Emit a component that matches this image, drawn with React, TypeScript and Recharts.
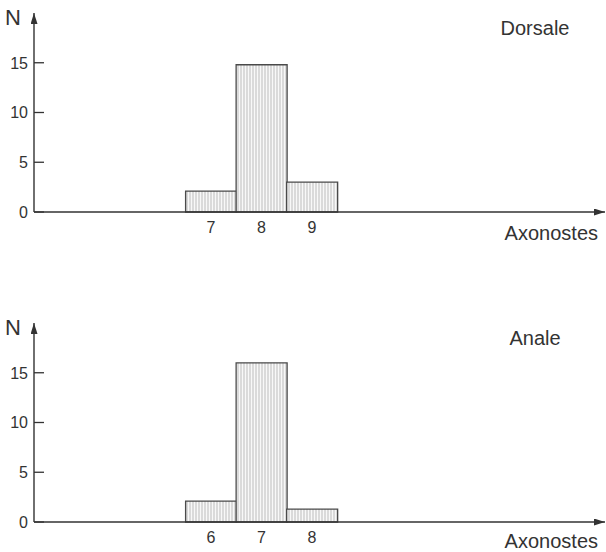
import { BarChart, Bar, XAxis, YAxis } from "recharts";

// axonostes counts per fin
const dorsaleBins = [7, 8, 9];
const dorsaleCounts = [2.1, 14.8, 3];
const analeBins = [6, 7, 8];
const analeCounts = [2.1, 16, 1.3];
const yTicks = [0, 5, 10, 15];

const FONT = '"Liberation Sans", Arial, Helvetica, sans-serif';
const INK = "#333";

const YTick = (props: any) => {
  const { x, y, payload } = props;
  return (
    <g>
      <line x1={x} x2={x + 10} y1={y} y2={y} stroke={INK} strokeWidth={1.3} />
      <text x={x - 6} y={y} dy="0.36em" textAnchor="end" fontSize={16} fill={INK} fontFamily={FONT}>
        {payload.value}
      </text>
    </g>
  );
};

type HistProps = {
  id: string;
  title: string;
  bins: number[];
  counts: number[];
  domain: [number, number];
  height: number;
  bottom: number;
  axisHeight: number;
  labelDy: number;
};

function Histogram({ id, title, bins, counts, domain, height, bottom, axisHeight, labelDy }: HistProps) {
  const data = bins.map((b, i) => ({ bin: b, n: counts[i] }));
  return (
    <BarChart
      width={606}
      height={height}
      data={data}
      margin={{ top: 13, right: 1, bottom, left: 0 }}
      barCategoryGap={0}
      style={{ fontFamily: FONT }}
    >
      <defs>
        <marker
          id={`arrow-${id}`}
          viewBox="0 0 11 7"
          refX={11}
          refY={3.5}
          markerWidth={11}
          markerHeight={7}
          markerUnits="userSpaceOnUse"
          orient="auto-start-reverse"
        >
          <path d="M0,0 L11,3.5 L0,7 z" fill={INK} />
        </marker>
        <pattern id={`hatch-${id}`} width={3} height={6} patternUnits="userSpaceOnUse">
          <rect width={3} height={6} fill="#f8f8f8" />
          <line x1={1} x2={1} y1={0} y2={6} stroke="#bdbdbd" strokeWidth={1} />
        </pattern>
      </defs>
      <XAxis
        dataKey="bin"
        type="number"
        domain={domain}
        allowDataOverflow
        ticks={bins}
        height={axisHeight}
        tickLine={false}
        tickSize={0}
        tickMargin={10}
        tick={{ fontSize: 16, fill: INK, fontFamily: FONT }}
        axisLine={{ stroke: INK, strokeWidth: 1.4, markerEnd: `url(#arrow-${id})` }}
        label={(p: any) => {
          const vb = p.viewBox;
          return (
            <text x={vb.x + vb.width - 7} y={vb.y + labelDy} textAnchor="end" fontSize={20} fill={INK} fontFamily={FONT}>
              Axonostes
            </text>
          );
        }}
      />
      <YAxis
        type="number"
        domain={[0, 20]}
        ticks={yTicks}
        width={34}
        tickLine={false}
        tickSize={0}
        tickMargin={0}
        tick={<YTick />}
        axisLine={{ stroke: INK, strokeWidth: 1.4, markerStart: `url(#arrow-${id})` }}
        label={(p: any) => {
          const vb = p.viewBox;
          return (
            <text x={vb.x + 5} y={vb.y + 12} fontSize={22} fill={INK} fontFamily={FONT}>
              N
            </text>
          );
        }}
      />
      <Bar
        dataKey="n"
        fill={`url(#hatch-${id})`}
        stroke="#4a4a4a"
        strokeWidth={1.3}
        isAnimationActive={false}
      />
      <text x={535} y={35} textAnchor="middle" fontSize={20} fill={INK} fontFamily={FONT}>
        {title}
      </text>
    </BarChart>
  );
}

export default function App() {
  return (
    <div style={{ position: "absolute", left: 0, top: 0, width: 606, height: 552, background: "#fff" }}>
      <Histogram
        id="dorsale"
        title="Dorsale"
        bins={dorsaleBins}
        counts={dorsaleCounts}
        domain={[3.5, 14.8]}
        height={310}
        bottom={60}
        axisHeight={38}
        labelDy={28}
      />
      <Histogram
        id="anale"
        title="Anale"
        bins={analeBins}
        counts={analeCounts}
        domain={[2.5, 13.8]}
        height={242}
        bottom={0}
        axisHeight={30}
        labelDy={26}
      />
    </div>
  );
}
